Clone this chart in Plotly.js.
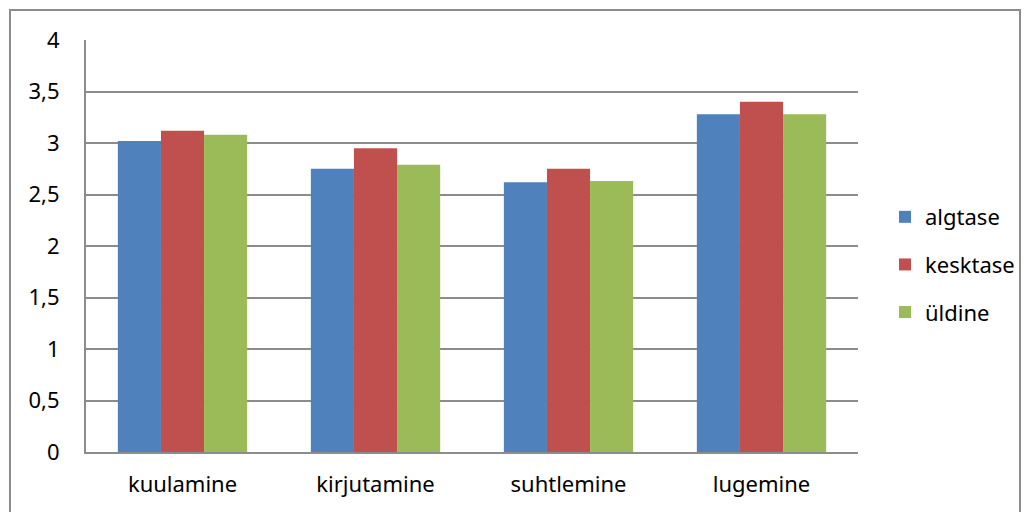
<!DOCTYPE html>
<html><head><meta charset="utf-8">
<script src="https://cdn.plot.ly/plotly-3.0.1.min.js"></script>
<style>
html,body{margin:0;padding:0;background:#fff;}
#wrap{position:relative;width:1032px;height:512px;overflow:hidden;}
#chart{position:absolute;left:0;top:0;width:1032px;height:512px;}
#frame{position:absolute;left:9px;top:9px;width:1012px;height:510px;border:2px solid #8c8c8c;box-sizing:border-box;pointer-events:none;}
</style></head>
<body><div id="wrap"><div id="chart"></div><div id="frame"></div></div>
<script>
const categories = ["kuulamine", "kirjutamine", "suhtlemine", "lugemine"];
const seriesNames = ["algtase", "kesktase", "üldine"];
const algtase = [3.02, 2.75, 2.62, 3.28];
const kesktase = [3.12, 2.95, 2.75, 3.40];
const uldine = [3.08, 2.79, 2.63, 3.28];
const yTicks = [0, 0.5, 1, 1.5, 2, 2.5, 3, 3.5, 4];
const colors = ["#4F81BD", "#C0504D", "#9BBB59"];
const values = [algtase, kesktase, uldine];

const font = "'Noto Sans', sans-serif";
const traces = values.map((v, i) => ({
  type: "bar", x: categories, y: v, name: seriesNames[i],
  legendgroup: "g" + i,
  marker: {color: colors[i], line: {width: 0}}
}));

const layout = {
  width: 1032, height: 512,
  margin: {l: 86, r: 172, t: 40, b: 60},
  paper_bgcolor: "#fff", plot_bgcolor: "#fff",
  separators: ", ",
  barmode: "group", bargap: 0.33, bargroupgap: 0,
  font: {family: font, size: 22, color: "#000"},
  xaxis: {showline: true, linecolor: "#8c8c8c", linewidth: 2, ticks: "", showgrid: false,
          ticklabelstandoff: 12, tickfont: {size: 22}},
  yaxis: {range: [0, 4], tickvals: yTicks, showline: true, linecolor: "#8c8c8c", linewidth: 2,
          gridcolor: "#8c8c8c", gridwidth: 2, zeroline: false, ticks: "",
          ticklabelstandoff: 20, tickfont: {size: 22}},
  legend: {x: 1.035, y: 0.455, xanchor: "left", yanchor: "middle", tracegroupgap: 16,
           font: {size: 22}, itemwidth: 30},
  showlegend: true
};
Plotly.newPlot("chart", traces, layout, {displayModeBar: false, staticPlot: true});
</script></body></html>
